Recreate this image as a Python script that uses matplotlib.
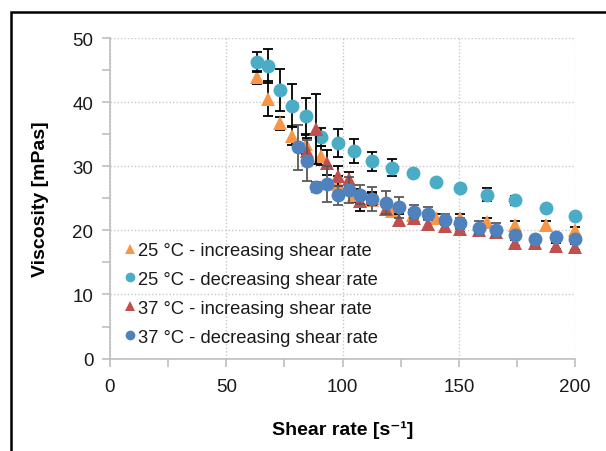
import matplotlib
matplotlib.use("Agg")
import matplotlib.pyplot as plt
from matplotlib.patches import Rectangle
from matplotlib.ticker import MultipleLocator

plt.rcParams['font.family'] = ['Liberation Sans', 'DejaVu Sans']

# 25 °C - increasing shear rate
x_25_inc = [63.4, 67.9, 72.9, 78.4, 84.1, 90.9, 98.0, 104.9, 112.8, 121.4, 130.3, 140.0, 150.7, 162.3, 174.0, 187.7, 200.0]
y_25_inc = [43.9, 40.6, 36.7, 34.8, 33.5, 31.7, 27.3, 25.5, 24.8, 23.0, 22.4, 22.0, 22.0, 21.3, 20.8, 20.8, 20.0]
e_25_inc = [1.0, 2.8, 1.0, 1.5, 1.5, 1.5, 1.2, 1.0, 1.0, 0.8, 0.8, 0.6, 0.6, 0.6, 0.7, 0.6, 0.6]

# 25 °C - decreasing shear rate
x_25_dec = [63.4, 67.9, 72.9, 78.4, 84.1, 90.9, 98.0, 104.9, 112.8, 121.4, 130.3, 140.0, 150.7, 162.3, 174.0, 187.7, 200.0]
y_25_dec = [46.3, 45.7, 41.9, 39.5, 37.8, 34.6, 33.7, 32.4, 30.8, 29.8, 28.9, 27.5, 26.6, 25.6, 24.7, 23.5, 22.3]
e_25_dec = [1.5, 2.6, 3.3, 3.4, 2.9, 1.4, 2.2, 1.9, 1.5, 1.3, 0.5, 0.5, 0.4, 1.0, 0.7, 0.3, 0.5]

# 37 °C - increasing shear rate
x_37_inc = [84.7, 88.5, 93.4, 98.0, 102.8, 107.4, 112.8, 118.5, 124.3, 130.6, 136.7, 144.2, 150.7, 158.5, 166.2, 174.0, 182.9, 191.7, 200.0]
y_37_inc = [32.4, 35.8, 30.6, 28.5, 28.0, 24.6, 25.0, 23.4, 21.7, 22.0, 21.0, 20.7, 20.3, 20.0, 19.7, 18.0, 18.0, 17.6, 17.4]
e_37_inc = [2.0, 5.5, 2.0, 1.5, 1.2, 1.5, 1.0, 0.8, 0.8, 0.8, 0.8, 0.7, 0.6, 0.6, 0.6, 0.5, 0.5, 0.5, 0.5]

# 37 °C - decreasing shear rate
x_37_dec = [80.8, 84.7, 88.5, 93.4, 98.0, 102.8, 107.4, 112.8, 118.5, 124.3, 130.6, 136.7, 144.2, 150.7, 158.5, 166.2, 174.0, 182.9, 191.7, 200.0]
y_37_dec = [33.0, 30.9, 26.8, 27.2, 25.5, 26.3, 25.6, 24.9, 24.3, 23.6, 22.9, 22.6, 21.7, 21.1, 20.4, 20.1, 19.3, 18.6, 19.0, 18.6]
e_37_dec = [3.5, 3.2, 0.8, 2.8, 1.5, 2.0, 1.5, 1.9, 1.8, 1.7, 1.0, 1.0, 0.8, 0.8, 1.0, 1.0, 0.5, 0.5, 0.5, 0.5]

labels = ["25 °C - increasing shear rate", "25 °C - decreasing shear rate",
          "37 °C - increasing shear rate", "37 °C - decreasing shear rate"]

fig = plt.figure(figsize=(6.06, 4.52), dpi=100)
ax = fig.add_axes([0.1815, 0.2046, 0.949 - 0.1815, 0.913 - 0.2046])

series = [
    (x_25_inc, y_25_inc, e_25_inc, '^', '#F79646', 'black', labels[0]),
    (x_25_dec, y_25_dec, e_25_dec, 'o', '#4BACC6', 'black', labels[1]),
    (x_37_inc, y_37_inc, e_37_inc, '^', '#C0504D', 'black', labels[2]),
    (x_37_dec, y_37_dec, e_37_dec, 'o', '#4F81BD', '#595959', labels[3]),
]
handles = []
for i, (xs, ys, es, m, c, ec, lab) in enumerate(series):
    eb = ax.errorbar(xs, ys, yerr=es, fmt='none', ecolor=ec, elinewidth=1.3,
                     capsize=3.5, capthick=1.3, zorder=2 + 2 * i)
    for art in eb.lines[1] + eb.lines[2]:
        art.set_clip_on(False)
    h, = ax.plot(xs, ys, linestyle='none', marker=m, markersize=10,
                 color=c, markeredgewidth=0, label=lab, zorder=3 + 2 * i,
                 clip_on=False)
    handles.append(h)

ax.set_xlim(0, 200)
ax.set_ylim(0, 50)
ax.xaxis.set_major_locator(MultipleLocator(50))
ax.xaxis.set_minor_locator(MultipleLocator(25))
ax.yaxis.set_major_locator(MultipleLocator(10))
ax.yaxis.set_minor_locator(MultipleLocator(5))
ax.grid(True, which='major', linestyle=(0, (1, 1.5)), color='#c8c8c8', linewidth=1.0)
ax.set_axisbelow(True)

for s in ('top', 'right'):
    ax.spines[s].set_visible(False)
for s in ('left', 'bottom'):
    ax.spines[s].set_color('#bfbfbf')
    ax.spines[s].set_linewidth(1.2)

ax.tick_params(which='both', direction='out', color='#bfbfbf', width=1.2,
               labelsize=13.5, labelcolor='#1a1a1a')
ax.tick_params(which='major', length=6)
ax.tick_params(axis='x', which='major', pad=8)
ax.tick_params(axis='y', which='major', pad=6)
ax.tick_params(which='minor', length=6)

ax.set_xlabel('Shear rate [s⁻¹]', fontsize=14, fontweight='bold', labelpad=18)
ax.set_ylabel('Viscosity [mPas]', fontsize=14, fontweight='bold', labelpad=17)

leg = ax.legend(handles=handles, loc='lower left', bbox_to_anchor=(0.005, 0.0),
                frameon=False, fontsize=13.2, handlelength=0.5, handletextpad=0.2,
                labelspacing=0.65, borderaxespad=0.3, markerscale=0.7)
for t in leg.get_texts():
    t.set_color('#1a1a1a')

# thin frame around the figure area
fig.add_artist(Rectangle((11 / 606, -0.1), 1.2, 1.1 - 12.5 / 452,
                         transform=fig.transFigure, fill=False,
                         edgecolor='black', linewidth=1.8))

fig.savefig('out.png', dpi=100)
